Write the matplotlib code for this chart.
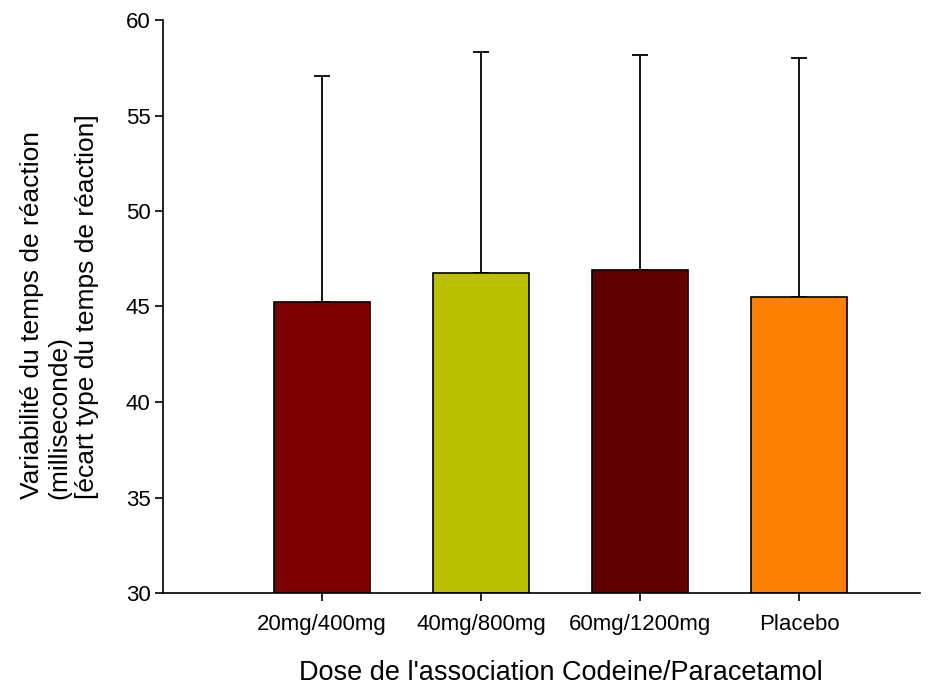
import numpy as np
import matplotlib.pyplot as plt

plt.rcParams['font.family'] = ['Liberation Sans', 'DejaVu Sans']

# donnees
doses = ['20mg/400mg', '40mg/800mg', '60mg/1200mg', 'Placebo']
moyennes = [45.25, 46.75, 46.9, 45.5]
erreurs_haut = [11.8, 11.55, 11.25, 12.5]
couleurs = ['#800000', '#bbc000', '#600000', '#ff8000']

fig = plt.figure(figsize=(9.49, 6.86), dpi=100)
ax = fig.add_axes([163/949, 1-593/686, (920-163)/949, (593-20)/686])

x = np.arange(len(doses))
ax.bar(x, np.array(moyennes) - 30, bottom=30, width=0.6, color=couleurs,
       edgecolor='black', linewidth=1.2, zorder=2)
ax.errorbar(x, moyennes, yerr=[np.zeros(len(x)), erreurs_haut], fmt='none',
            ecolor='black', elinewidth=1.3, capsize=6, capthick=1.3, zorder=1)

ax.set_xlim(-1.0, 3.76)
ax.set_ylim(30, 60)
ax.set_yticks(np.arange(30, 61, 5))
ax.set_xticks(x)
ax.set_xticklabels(doses)
ax.tick_params(axis='both', direction='out', length=6, width=1.2, labelsize=16)
ax.tick_params(axis='x', pad=9)
ax.tick_params(axis='y', pad=3)
ax.spines['top'].set_visible(False)
ax.spines['right'].set_visible(False)
ax.spines['left'].set_linewidth(1.2)
ax.spines['bottom'].set_linewidth(1.2)

# titre x centre sur les barres
ax.set_xlabel("Dose de l'association Codeine/Paracetamol", fontsize=19.5,
              labelpad=18, x=(1.5 + 1.0) / 4.76)
ax.set_ylabel("Variabilité du temps de réaction\n(milliseconde)\n[écart type du temps de réaction]",
              fontsize=19, labelpad=19, linespacing=1.2, multialignment='left')

plt.savefig('out.png', dpi=100)
